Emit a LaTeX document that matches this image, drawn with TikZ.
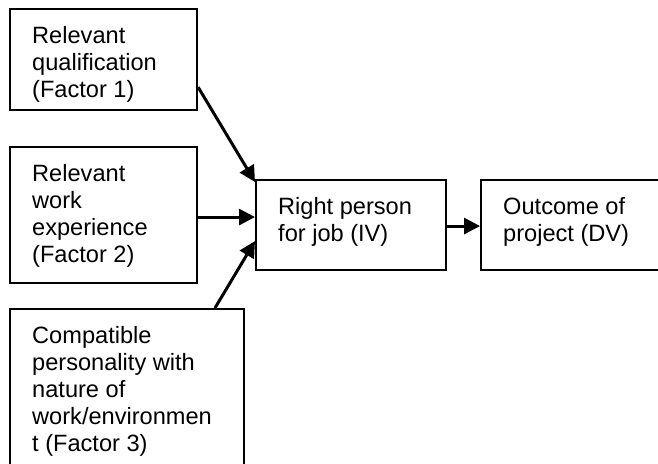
\documentclass[tikz,border=0pt]{standalone}
\usepackage{fontspec}
\setmainfont{Liberation Sans}
\usetikzlibrary{arrows.meta,calc}
\begin{document}
\begin{tikzpicture}[x=1pt,y=-1pt,
  boxstyle/.style={draw=black, line width=2.1pt, rectangle, inner sep=0pt, anchor=north west},
  txt/.style={anchor=north west, inner sep=0pt, align=left, font=\fontsize{23.6}{27}\selectfont},
  arr/.style={line width=3pt, -{Triangle[length=16pt,width=16pt]}}]
\useasboundingbox (0,0) rectangle (658,463);
\clip (0,0) rectangle (658,463);
% boxes
\node[boxstyle, minimum width=187pt, minimum height=101pt] (f1) at (9,8) {};
\node[boxstyle, minimum width=187pt, minimum height=136pt] (f2) at (9,146) {};
\node[boxstyle, minimum width=234pt, minimum height=164pt] (f3) at (9,308) {};
\node[boxstyle, minimum width=190pt, minimum height=90pt] (iv) at (255,179) {};
\node[boxstyle, minimum width=190pt, minimum height=90pt] (dv) at (480,179) {};
% texts
\node[txt] (t1) at ($(f1.north west)+(23,17)$) {\rule{0pt}{18pt}Relevant\\qualification\\(Factor 1)};
\node[txt] (t2) at ($(f2.north west)+(23,17)$) {\rule{0pt}{18pt}Relevant\\work\\experience\\(Factor 2)};
\node[txt] (t3) at ($(f3.north west)+(23,17)$) {\rule{0pt}{18pt}Compatible\\personality with\\nature of\\work/environmen\\t (Factor 3)};
\node[txt] (t4) at ($(iv.north west)+(23,17)$) {\rule{0pt}{18pt}Right person\\for job (IV)};
\node[txt] (t5) at ($(dv.north west)+(23,17)$) {\rule{0pt}{18pt}Outcome of\\project (DV)};
% connectors
\draw[arr] ($(f1.south east)+(0,-24)$) -- ($(iv.north west)+(0,3)$);
\draw[arr] ($(f2.east)+(0,2)$) -- ($(iv.west)+(0,-8)$);
\draw[arr] ($(f3.north west)+(206,0)$) -- ($(iv.south west)+(0,-30)$);
\draw[arr] ($(iv.east)+(0,1)$) -- ($(dv.west)+(0,1)$);
\end{tikzpicture}
\end{document}
